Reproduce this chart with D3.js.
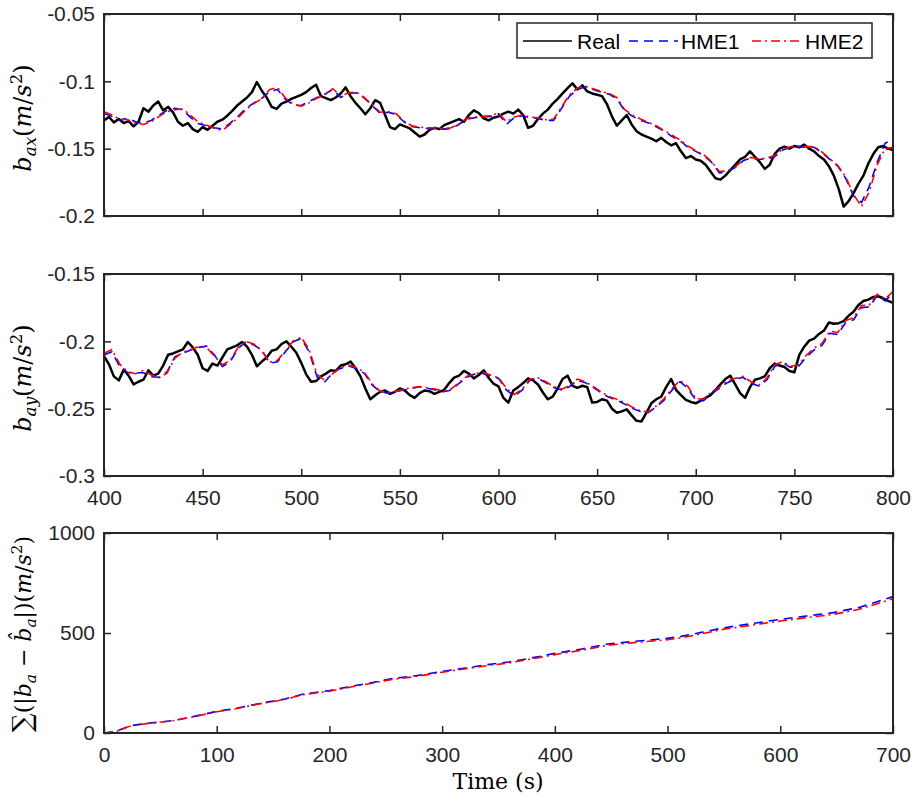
<!DOCTYPE html>
<html><head><meta charset="utf-8">
<script src="https://cdn.jsdelivr.net/npm/d3@7/dist/d3.min.js"></script>
<style>body{margin:0;background:#fff}</style>
</head><body><svg id="c" width="915" height="802"></svg>
<script>
// ---------- DATA ----------
const seriesNames = ["Real", "HME1", "HME2"];
const realStep = 2.5, hmeStep = 4;
const timeStart = 400, timeEnd = 800;

const baxReal = [
-0.1290,-0.1265,-0.1305,-0.1280,-0.1310,-0.1295,-0.1335,-0.1300,-0.1200,-0.1225,
-0.1180,-0.1150,-0.1215,-0.1190,-0.1230,-0.1300,-0.1330,-0.1310,-0.1355,-0.1375,
-0.1340,-0.1360,-0.1330,-0.1300,-0.1285,-0.1255,-0.1220,-0.1180,-0.1150,-0.1120,
-0.1080,-0.1005,-0.1070,-0.1120,-0.1190,-0.1205,-0.1165,-0.1150,-0.1130,-0.1115,
-0.1100,-0.1080,-0.1050,-0.1025,-0.1110,-0.1125,-0.1140,-0.1120,-0.1090,-0.1045,
-0.1110,-0.1160,-0.1200,-0.1245,-0.1200,-0.1140,-0.1160,-0.1250,-0.1340,-0.1355,
-0.1320,-0.1335,-0.1350,-0.1380,-0.1410,-0.1395,-0.1360,-0.1345,-0.1355,-0.1325,
-0.1310,-0.1295,-0.1280,-0.1300,-0.1250,-0.1215,-0.1235,-0.1275,-0.1290,-0.1270,
-0.1260,-0.1240,-0.1225,-0.1240,-0.1210,-0.1250,-0.1345,-0.1330,-0.1280,-0.1240,
-0.1210,-0.1165,-0.1130,-0.1090,-0.1050,-0.1015,-0.1060,-0.1030,-0.1075,-0.1090,
-0.1100,-0.1110,-0.1170,-0.1260,-0.1330,-0.1290,-0.1250,-0.1320,-0.1370,-0.1395,
-0.1410,-0.1425,-0.1445,-0.1420,-0.1450,-0.1475,-0.1460,-0.1520,-0.1570,-0.1555,
-0.1580,-0.1590,-0.1620,-0.1670,-0.1720,-0.1730,-0.1700,-0.1660,-0.1620,-0.1580,
-0.1560,-0.1520,-0.1560,-0.1600,-0.1650,-0.1620,-0.1540,-0.1500,-0.1485,-0.1500,
-0.1480,-0.1490,-0.1470,-0.1500,-0.1520,-0.1555,-0.1580,-0.1630,-0.1700,-0.1800,
-0.1930,-0.1890,-0.1830,-0.1760,-0.1700,-0.1610,-0.1540,-0.1490,-0.1480,-0.1500,
-0.1510];

const baxHME1 = [
-0.1238,-0.1260,-0.1288,-0.1275,-0.1300,-0.1310,-0.1290,-0.1250,-0.1215,-0.1200,
-0.1213,-0.1270,-0.1315,-0.1330,-0.1345,-0.1355,-0.1310,-0.1260,-0.1200,-0.1160,
-0.1126,-0.1075,-0.1060,-0.1135,-0.1175,-0.1180,-0.1150,-0.1120,-0.1095,-0.1060,
-0.1120,-0.1090,-0.1085,-0.1125,-0.1180,-0.1238,-0.1230,-0.1245,-0.1300,-0.1335,
-0.1345,-0.1350,-0.1350,-0.1355,-0.1350,-0.1320,-0.1280,-0.1270,-0.1265,-0.1260,
-0.1240,-0.1320,-0.1270,-0.1255,-0.1270,-0.1275,-0.1290,-0.1290,-0.1200,-0.1110,
-0.1060,-0.1040,-0.1060,-0.1080,-0.1095,-0.1130,-0.1220,-0.1260,-0.1290,-0.1310,
-0.1337,-0.1370,-0.1410,-0.1440,-0.1490,-0.1520,-0.1550,-0.1600,-0.1680,-0.1670,
-0.1640,-0.1590,-0.1570,-0.1580,-0.1575,-0.1560,-0.1510,-0.1490,-0.1486,-0.1490,
-0.1490,-0.1530,-0.1580,-0.1630,-0.1720,-0.1850,-0.1900,-0.1780,-0.1600,-0.1460,
-0.1430];

const baxHME2 = [
-0.1225,-0.1250,-0.1280,-0.1285,-0.1310,-0.1320,-0.1300,-0.1260,-0.1225,-0.1210,
-0.1205,-0.1255,-0.1305,-0.1325,-0.1350,-0.1365,-0.1320,-0.1270,-0.1210,-0.1165,
-0.1130,-0.1060,-0.1045,-0.1125,-0.1170,-0.1185,-0.1160,-0.1125,-0.1100,-0.1055,
-0.1110,-0.1085,-0.1080,-0.1120,-0.1175,-0.1230,-0.1225,-0.1240,-0.1295,-0.1330,
-0.1340,-0.1345,-0.1345,-0.1350,-0.1345,-0.1315,-0.1275,-0.1265,-0.1260,-0.1255,
-0.1235,-0.1300,-0.1265,-0.1250,-0.1265,-0.1270,-0.1285,-0.1280,-0.1190,-0.1100,
-0.1050,-0.1035,-0.1055,-0.1075,-0.1090,-0.1120,-0.1210,-0.1250,-0.1280,-0.1305,
-0.1330,-0.1365,-0.1400,-0.1435,-0.1480,-0.1515,-0.1545,-0.1595,-0.1670,-0.1665,
-0.1635,-0.1585,-0.1565,-0.1575,-0.1570,-0.1550,-0.1505,-0.1485,-0.1480,-0.1485,
-0.1485,-0.1525,-0.1575,-0.1625,-0.1710,-0.1840,-0.1930,-0.1820,-0.1620,-0.1500,
-0.1490];

const bayReal = [
-0.2110,-0.2170,-0.2260,-0.2290,-0.2210,-0.2255,-0.2320,-0.2300,-0.2285,-0.2215,
-0.2255,-0.2240,-0.2180,-0.2100,-0.2090,-0.2075,-0.2060,-0.2005,-0.2045,-0.2100,
-0.2200,-0.2220,-0.2165,-0.2180,-0.2120,-0.2060,-0.2045,-0.2030,-0.2005,-0.2040,
-0.2100,-0.2185,-0.2150,-0.2120,-0.2070,-0.2060,-0.2020,-0.2000,-0.2040,-0.2085,
-0.2160,-0.2245,-0.2300,-0.2295,-0.2260,-0.2240,-0.2215,-0.2220,-0.2180,-0.2170,
-0.2150,-0.2200,-0.2260,-0.2350,-0.2430,-0.2400,-0.2375,-0.2365,-0.2390,-0.2375,
-0.2350,-0.2365,-0.2400,-0.2420,-0.2385,-0.2365,-0.2370,-0.2390,-0.2375,-0.2360,
-0.2310,-0.2270,-0.2255,-0.2220,-0.2240,-0.2275,-0.2250,-0.2215,-0.2270,-0.2315,
-0.2335,-0.2420,-0.2455,-0.2365,-0.2340,-0.2310,-0.2275,-0.2290,-0.2320,-0.2380,
-0.2430,-0.2410,-0.2350,-0.2280,-0.2255,-0.2330,-0.2345,-0.2330,-0.2340,-0.2455,
-0.2450,-0.2430,-0.2440,-0.2500,-0.2530,-0.2520,-0.2505,-0.2550,-0.2590,-0.2595,
-0.2530,-0.2460,-0.2430,-0.2410,-0.2340,-0.2280,-0.2360,-0.2400,-0.2435,-0.2450,
-0.2460,-0.2440,-0.2420,-0.2400,-0.2360,-0.2320,-0.2280,-0.2255,-0.2320,-0.2385,
-0.2420,-0.2340,-0.2285,-0.2275,-0.2260,-0.2200,-0.2165,-0.2180,-0.2190,-0.2220,
-0.2230,-0.2100,-0.2040,-0.1995,-0.1980,-0.1945,-0.1920,-0.1860,-0.1870,-0.1865,
-0.1850,-0.1810,-0.1780,-0.1730,-0.1700,-0.1690,-0.1670,-0.1665,-0.1680,-0.1700,
-0.1715];

const bayHME1 = [
-0.2102,-0.2077,-0.2188,-0.2233,-0.2233,-0.2233,-0.2263,-0.2267,-0.2225,-0.2114,
-0.2089,-0.2064,-0.2045,-0.2035,-0.2102,-0.2188,-0.2151,-0.2052,-0.2003,-0.2027,
-0.2064,-0.2163,-0.2151,-0.2077,-0.2003,-0.1978,-0.2077,-0.2263,-0.2300,-0.2233,
-0.2201,-0.2183,-0.2201,-0.2238,-0.2325,-0.2374,-0.2386,-0.2374,-0.2362,-0.2349,
-0.2337,-0.2349,-0.2362,-0.2374,-0.2362,-0.2312,-0.2267,-0.2243,-0.2238,-0.2258,
-0.2275,-0.2362,-0.2406,-0.2362,-0.2287,-0.2275,-0.2307,-0.2342,-0.2362,-0.2337,
-0.2287,-0.2307,-0.2342,-0.2381,-0.2416,-0.2436,-0.2466,-0.2498,-0.2522,-0.2530,
-0.2486,-0.2436,-0.2362,-0.2300,-0.2349,-0.2436,-0.2441,-0.2386,-0.2349,-0.2307,
-0.2282,-0.2267,-0.2312,-0.2332,-0.2287,-0.2188,-0.2159,-0.2193,-0.2188,-0.2119,
-0.2064,-0.2030,-0.1940,-0.1950,-0.1860,-0.1840,-0.1750,-0.1745,-0.1660,-0.1700,
-0.1640];

const bayHME2 = [
-0.2090,-0.2060,-0.2170,-0.2225,-0.2240,-0.2215,-0.2250,-0.2270,-0.2235,-0.2125,
-0.2080,-0.2060,-0.2040,-0.2045,-0.2110,-0.2175,-0.2140,-0.2045,-0.2000,-0.2020,
-0.2070,-0.2155,-0.2140,-0.2070,-0.1995,-0.1970,-0.2060,-0.2245,-0.2290,-0.2240,
-0.2195,-0.2175,-0.2195,-0.2230,-0.2315,-0.2370,-0.2380,-0.2370,-0.2355,-0.2345,
-0.2335,-0.2345,-0.2355,-0.2370,-0.2355,-0.2305,-0.2260,-0.2240,-0.2230,-0.2250,
-0.2270,-0.2350,-0.2395,-0.2355,-0.2280,-0.2270,-0.2300,-0.2335,-0.2355,-0.2330,
-0.2280,-0.2300,-0.2335,-0.2375,-0.2410,-0.2430,-0.2455,-0.2490,-0.2515,-0.2525,
-0.2480,-0.2425,-0.2350,-0.2290,-0.2335,-0.2425,-0.2430,-0.2375,-0.2340,-0.2295,
-0.2275,-0.2260,-0.2300,-0.2325,-0.2275,-0.2175,-0.2150,-0.2185,-0.2175,-0.2105,
-0.2050,-0.2015,-0.1925,-0.1935,-0.1845,-0.1825,-0.1735,-0.1730,-0.1650,-0.1685,
-0.1630];

const cumT    = [0, 10, 24, 38, 61, 80, 100, 117, 140, 159, 177, 200, 219, 238, 256, 275, 300, 321, 340, 359, 382, 400, 424, 447, 470, 498, 512, 530, 549, 572, 600, 623, 647, 670, 684, 700];
const cumHME1 = [0, 7, 37, 48, 62, 83, 108, 123, 150, 168, 195, 212, 233, 252, 272, 285, 308, 325, 342, 355, 378, 398, 420, 445, 458, 472, 483, 503, 525, 545, 568, 585, 602, 628, 653, 682];
const cumHME2 = [0, 6, 36, 47, 61, 82, 106, 121, 148, 166, 192, 209, 230, 249, 268, 281, 304, 321, 337, 350, 373, 392, 414, 439, 452, 465, 476, 496, 518, 537, 560, 577, 593, 619, 643, 672];

const xTicksTime = [400, 450, 500, 550, 600, 650, 700, 750, 800];
const xTickLabelsTime = ["400","450","500","550","600","650","700","750","800"];
const yTicks1 = [-0.2, -0.15, -0.1, -0.05];
const yTickLabels1 = ["-0.2","-0.15","-0.1","-0.05"];
const yTicks2 = [-0.3, -0.25, -0.2, -0.15];
const yTickLabels2 = ["-0.3","-0.25","-0.2","-0.15"];
const xTicks3 = [0, 100, 200, 300, 400, 500, 600, 700];
const xTickLabels3 = ["0","100","200","300","400","500","600","700"];
const yTicks3 = [0, 500, 1000];
const yTickLabels3 = ["0","500","1000"];

// ---------- DRAW ----------
const svg = d3.select("#c");
const axisColor = "#262626";
const tickFont = "'Liberation Sans', Arial, sans-serif";
const mathFont = "'DejaVu Serif', serif";
const L = 104, R = 893;
const colors = {Real: "#000000", HME1: "#0000ff", HME2: "#ff0000"};
const dashes = {Real: null, HME1: "9,6", HME2: "9,4,2,4"};
const widths = {Real: 2.5, HME1: 1.6, HME2: 1.6};

function series(start, step, vals) {
  return vals.map((v, i) => [start + i * step, v]);
}

function panel(id, top, bottom, xDom, yDom, xt, xtl, yt, ytl, showX) {
  const x = d3.scaleLinear().domain(xDom).range([L, R]);
  const y = d3.scaleLinear().domain(yDom).range([bottom, top]);
  const g = svg.append("g");
  svg.append("clipPath").attr("id", id).append("rect")
    .attr("x", L).attr("y", top - 1).attr("width", R - L).attr("height", bottom - top + 2);
  const styleAxis = (a, labels) => {
    a.select(".domain").remove();
    a.selectAll(".tick line").attr("stroke", axisColor).attr("stroke-width", 1.5);
    a.selectAll(".tick text").attr("fill", axisColor)
      .style("font-family", tickFont).style("font-size", "21px");
    if (!labels) a.selectAll(".tick text").remove();
  };
  const fmtX = (d) => xtl[xt.indexOf(d)];
  const fmtY = (d) => ytl[yt.indexOf(d)];
  g.append("g").attr("transform", `translate(0,${bottom})`)
    .call(d3.axisBottom(x).tickValues(xt).tickFormat(fmtX).tickSizeInner(-7).tickSizeOuter(0).tickPadding(14))
    .call(a => styleAxis(a, showX));
  g.append("g").attr("transform", `translate(0,${top})`)
    .call(d3.axisTop(x).tickValues(xt).tickSizeInner(-7).tickSizeOuter(0))
    .call(a => styleAxis(a, false));
  g.append("g").attr("transform", `translate(${L},0)`)
    .call(d3.axisLeft(y).tickValues(yt).tickFormat(fmtY).tickSizeInner(-7).tickSizeOuter(0).tickPadding(9))
    .call(a => styleAxis(a, true));
  g.append("g").attr("transform", `translate(${R},0)`)
    .call(d3.axisRight(y).tickValues(yt).tickSizeInner(-7).tickSizeOuter(0))
    .call(a => styleAxis(a, false));
  return {x, y, g, top, bottom};
}

function drawLine(p, clipId, data, name) {
  const line = d3.line().x(d => p.x(d[0])).y(d => p.y(d[1]));
  p.g.append("path").datum(data)
    .attr("clip-path", `url(#${clipId})`)
    .attr("fill", "none")
    .attr("stroke", colors[name])
    .attr("stroke-width", widths[name])
    .attr("stroke-linejoin", "round")
    .attr("stroke-dasharray", dashes[name])
    .attr("d", line);
}

function frame(p) {
  p.g.append("rect").attr("x", L).attr("y", p.top)
    .attr("width", R - L).attr("height", p.bottom - p.top)
    .attr("fill", "none").attr("stroke", axisColor).attr("stroke-width", 2);
}

// Panel 1
const p1 = panel("clip1", 14, 216, [timeStart, timeEnd], [-0.2, -0.05], xTicksTime, xTickLabelsTime, yTicks1, yTickLabels1, false);
drawLine(p1, "clip1", series(timeStart, realStep, baxReal), "Real");
drawLine(p1, "clip1", series(timeStart, hmeStep, baxHME1), "HME1");
drawLine(p1, "clip1", series(timeStart, hmeStep, baxHME2), "HME2");
frame(p1);

// Panel 2
const p2 = panel("clip2", 274, 476, [timeStart, timeEnd], [-0.3, -0.15], xTicksTime, xTickLabelsTime, yTicks2, yTickLabels2, true);
drawLine(p2, "clip2", series(timeStart, realStep, bayReal), "Real");
drawLine(p2, "clip2", series(timeStart, hmeStep, bayHME1), "HME1");
drawLine(p2, "clip2", series(timeStart, hmeStep, bayHME2), "HME2");
frame(p2);

// Panel 3
const p3 = panel("clip3", 533, 733, [0, 700], [0, 1000], xTicks3, xTickLabels3, yTicks3, yTickLabels3, true);
drawLine(p3, "clip3", cumT.map((t, i) => [t, cumHME1[i]]), "HME1");
drawLine(p3, "clip3", cumT.map((t, i) => [t, cumHME2[i]]), "HME2");
frame(p3);

// Legend
const lg = svg.append("g");
lg.append("rect").attr("x", 517).attr("y", 23).attr("width", 355).attr("height", 35)
  .attr("fill", "#fff").attr("stroke", axisColor).attr("stroke-width", 1.5);
const legendItems = [
  {name: seriesNames[0], x0: 523, x1: 572, tx: 577},
  {name: seriesNames[1], x0: 629, x1: 678, tx: 681},
  {name: seriesNames[2], x0: 752, x1: 800, tx: 805}
];
legendItems.forEach(it => {
  lg.append("line").attr("x1", it.x0).attr("x2", it.x1).attr("y1", 41).attr("y2", 41)
    .attr("stroke", colors[it.name]).attr("stroke-width", it.name === "Real" ? 1.6 : widths[it.name])
    .attr("stroke-dasharray", dashes[it.name]);
  lg.append("text").attr("x", it.tx).attr("y", 48.5).text(it.name)
    .style("font-family", tickFont).style("font-size", "21px").attr("fill", "#000");
});

// Y labels
function yLabel(cx, cy, parts, size) {
  const t = svg.append("text").attr("transform", `translate(${cx},${cy}) rotate(-90)`)
    .attr("text-anchor", "middle").style("font-family", mathFont).style("font-size", size + "px")
    .attr("fill", "#000");
  parts.forEach(p => {
    const s = t.append("tspan").text(p.t);
    if (p.it) s.style("font-style", "italic");
    if (p.fs) s.style("font-size", (size * p.fs) + "px");
    if (p.dy) s.attr("dy", p.dy);
  });
}
yLabel(31, 118, [
  {t: "b", it: 1}, {t: "ax", it: 1, fs: 0.7, dy: 5}, {t: "(", dy: -5}, {t: "m", it: 1}, {t: "/", it: 0},
  {t: "s", it: 1}, {t: "2", fs: 0.7, dy: -9}, {t: ")", dy: 9}
], 24);
yLabel(31, 378, [
  {t: "b", it: 1}, {t: "ay", it: 1, fs: 0.7, dy: 5}, {t: "(", dy: -5}, {t: "m", it: 1}, {t: "/", it: 0},
  {t: "s", it: 1}, {t: "2", fs: 0.7, dy: -9}, {t: ")", dy: 9}
], 24);
yLabel(31, 634, [
  {t: "\u2211", fs: 1.2}, {t: "(|"}, {t: "b", it: 1}, {t: "a", it: 1, fs: 0.7, dy: 5}, {t: " \u2212 ", dy: -5},
  {t: "b\u0302", it: 1}, {t: "a", it: 1, fs: 0.7, dy: 5}, {t: "|)(", dy: -5}, {t: "m", it: 1}, {t: "/"},
  {t: "s", it: 1}, {t: "2", fs: 0.7, dy: -9}, {t: ")", dy: 9}
], 22);

// X label
svg.append("text").attr("x", 498).attr("y", 789).attr("text-anchor", "middle")
  .style("font-family", mathFont).style("font-size", "22px").attr("fill", "#000")
  .text("Time (s)");
</script></body></html>
